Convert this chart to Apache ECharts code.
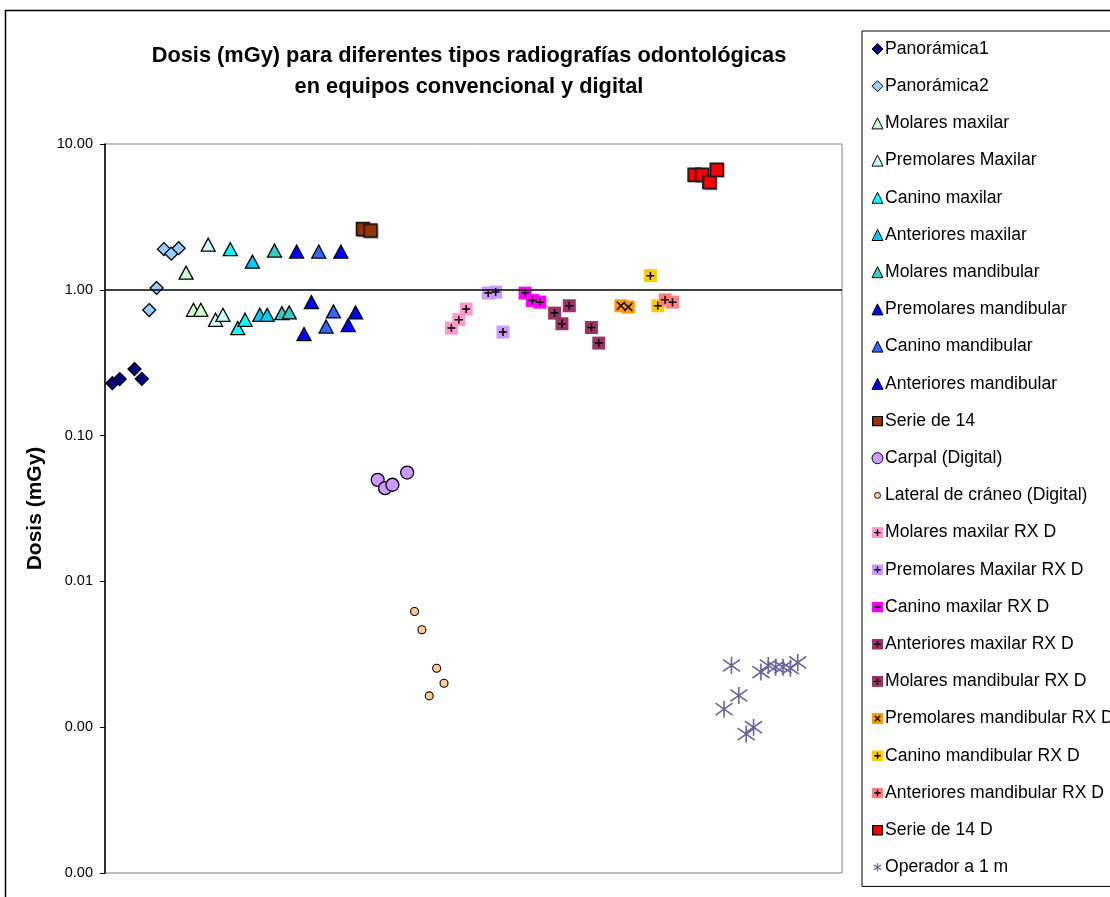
<!DOCTYPE html>
<html>
<head>
<meta charset="utf-8">
<script src="https://cdn.jsdelivr.net/npm/echarts@6/dist/echarts.min.js"></script>
<style>
  html, body { margin: 0; padding: 0; background: #fff; }
  #chart { width: 1110px; height: 897px; }
</style>
</head>
<body>
<div id="chart"></div>
<script>
// Dose values in mGy, one [sample index, dose] pair per measurement
const panoramica1 = [[1, 0.229], [2, 0.244], [4, 0.286], [5, 0.245]];
const panoramica2 = [[6, 0.726], [7, 1.03], [8, 1.90], [9, 1.77], [10, 1.93]];
const molaresMaxilar = [[11, 1.31], [12, 0.729], [13, 0.729]];
const premolaresMaxilar = [[14, 2.04], [15, 0.623], [16, 0.674]];
const caninoMaxilar = [[17, 1.90], [18, 0.546], [19, 0.623]];
const anterioresMaxilar = [[20, 1.56], [21, 0.674], [22, 0.674]];
const molaresMandibular = [[23, 1.86], [24, 0.692], [25, 0.699]];
const premolaresMandibular = [[26, 1.83], [27, 0.497], [28, 0.823]];
const caninoMandibular = [[29, 1.83], [30, 0.560], [31, 0.710]];
const anterioresMandibular = [[32, 1.83], [33, 0.573], [34, 0.699]];
const serie14 = [[35, 2.61], [36, 2.55]];
const carpal = [[37, 0.0497], [38, 0.0436], [39, 0.0460], [41, 0.0558]];
const lateralCraneo = [[42, 0.00622], [43, 0.00466], [44, 0.00164], [45, 0.00254], [46, 0.00200]];
const molaresMaxilarD = [[47, 0.546], [48, 0.623], [49, 0.738]];
const premolaresMaxilarD = [[52, 0.949], [53, 0.964], [54, 0.513]];
const caninoMaxilarD = [[57, 0.949], [58, 0.845], [59, 0.823]];
const anterioresMaxilarD = [[61, 0.692], [62, 0.585], [63, 0.777]];
const molaresMandibularD = [[66, 0.551], [67, 0.431]];
const premolaresMandibularD = [[70, 0.777], [71, 0.761]];
const caninoMandibularD = [[74, 1.25], [75, 0.777]];
const anterioresMandibularD = [[76, 0.854], [77, 0.823]];
const serie14D = [[80, 6.15], [81, 6.15], [82, 5.48], [83, 6.65]];
const operador = [[84, 0.00133], [85, 0.00265], [86, 0.00165], [87, 0.000897], [88, 0.00100],
                  [89, 0.00239], [90, 0.00265], [91, 0.00258], [92, 0.00258], [93, 0.00254], [94, 0.00278]];

// Axis range (log decades) and the level where the horizontal axis crosses
const yMin = 0.0001, yMax = 10, xMin = 0, xMax = 100, crossAt = 1;

const titleText = 'Dosis (mGy) para diferentes tipos radiografías odontológicas\nen equipos convencional y digital';
const yAxisTitle = 'Dosis (mGy)';

const FONT = "'Liberation Sans', Arial, sans-serif";
const STAR = 'path://M10 0L10 20M1 3L19 17M1 17L19 3';
const PLUS = 'path://M5 0L5 10M0 5L10 5';
const CROSS = 'path://M0 0L10 10M0 10L10 0';

// Series look: marker kind, colour and whether a plus / cross is drawn on the square
const seriesSpec = [
  { name: 'Panorámica1', data: panoramica1, kind: 'diamond', color: '#000080' },
  { name: 'Panorámica2', data: panoramica2, kind: 'diamond', color: '#99CCFF' },
  { name: 'Molares maxilar', data: molaresMaxilar, kind: 'triangle', color: '#CCFFCC' },
  { name: 'Premolares Maxilar', data: premolaresMaxilar, kind: 'triangle', color: '#CCFFFF' },
  { name: 'Canino maxilar', data: caninoMaxilar, kind: 'triangle', color: '#00FFFF' },
  { name: 'Anteriores maxilar', data: anterioresMaxilar, kind: 'triangle', color: '#00CCFF' },
  { name: 'Molares mandibular', data: molaresMandibular, kind: 'triangle', color: '#33CCCC' },
  { name: 'Premolares mandibular', data: premolaresMandibular, kind: 'triangle', color: '#0000FF' },
  { name: 'Canino mandibular', data: caninoMandibular, kind: 'triangle', color: '#3366FF' },
  { name: 'Anteriores mandibular', data: anterioresMandibular, kind: 'triangle', color: '#0000FF' },
  { name: 'Serie de 14', data: serie14, kind: 'square', color: '#993300' },
  { name: 'Carpal (Digital)', data: carpal, kind: 'circle', color: '#CC99FF' },
  { name: 'Lateral de cráneo (Digital)', data: lateralCraneo, kind: 'dot', color: '#FFCC99' },
  { name: 'Molares maxilar RX D', data: molaresMaxilarD, kind: 'marked', color: '#FF99CC', mark: 'plus' },
  { name: 'Premolares Maxilar RX D', data: premolaresMaxilarD, kind: 'marked', color: '#CC99FF', mark: 'plus' },
  { name: 'Canino maxilar RX D', data: caninoMaxilarD, kind: 'marked', color: '#FF00FF', mark: 'plus' },
  { name: 'Anteriores maxilar RX D', data: anterioresMaxilarD, kind: 'marked', color: '#993366', mark: 'plus' },
  { name: 'Molares mandibular RX D', data: molaresMandibularD, kind: 'marked', color: '#993366', mark: 'plus' },
  { name: 'Premolares mandibular RX D', data: premolaresMandibularD, kind: 'marked', color: '#FF9900', mark: 'cross' },
  { name: 'Canino mandibular RX D', data: caninoMandibularD, kind: 'marked', color: '#FFCC00', mark: 'plus' },
  { name: 'Anteriores mandibular RX D', data: anterioresMandibularD, kind: 'marked', color: '#FF8080', mark: 'plus' },
  { name: 'Serie de 14 D', data: serie14D, kind: 'square', color: '#FF0000' },
  { name: 'Operador a 1 m', data: operador, kind: 'star', color: '#666699' }
];

function svgIcon(body, w, h) {
  const svg = '<svg xmlns="http://www.w3.org/2000/svg" width="' + w + '" height="' + h +
    '" viewBox="0 0 ' + w + ' ' + h + '">' + body + '</svg>';
  return 'image://data:image/svg+xml;charset=utf-8,' + encodeURIComponent(svg);
}
function markedIcon(color, mark) {
  const m = mark === 'cross'
    ? '<path d="M3 3L9 9M3 9L9 3" stroke="#000" stroke-width="1.5"/>'
    : '<path d="M6 2.5V9.5M2.5 6H9.5" stroke="#000" stroke-width="1.5"/>';
  return svgIcon('<rect x="0" y="0" width="12" height="12" fill="' + color + '"/>' + m, 12, 12);
}

const series = [];
const legendData = [];

// Horizontal axis drawn at dose = 1 across the plot, beneath the markers
series.push({
  type: 'scatter', name: '__axis', data: [], z: 1, silent: true,
  markLine: {
    silent: true, symbol: 'none', animation: false,
    label: { show: false },
    lineStyle: { color: '#000', width: 1.5, type: 'solid' },
    emphasis: { disabled: true },
    data: [{ yAxis: crossAt }]
  }
});

seriesSpec.forEach(function (s) {
  const base = {
    type: 'scatter', name: s.name, data: s.data, z: 3,
    emphasis: { disabled: true }, silent: true
  };
  const legendItem = { name: s.name };
  if (s.kind === 'diamond') {
    Object.assign(base, { symbol: 'diamond', symbolSize: 13,
      itemStyle: { color: s.color, borderColor: '#000', borderWidth: 1.3, opacity: 1 } });
  } else if (s.kind === 'triangle') {
    Object.assign(base, { symbol: 'triangle', symbolSize: [14, 13],
      itemStyle: { color: s.color, borderColor: '#000', borderWidth: 1.3, opacity: 1 } });
  } else if (s.kind === 'square') {
    Object.assign(base, { symbol: 'rect', symbolSize: 13,
      itemStyle: { color: s.color, borderColor: '#1a1a1a', borderWidth: 1.5, opacity: 1,
        shadowColor: 'rgba(0,0,0,0.35)', shadowOffsetX: 1, shadowOffsetY: 1, shadowBlur: 1 } });
    legendItem.icon = svgIcon('<rect x="0.75" y="0.75" width="10.5" height="10.5" fill="' + s.color +
      '" stroke="#000" stroke-width="1.5"/>', 12, 12);
  } else if (s.kind === 'circle') {
    Object.assign(base, { symbol: 'circle', symbolSize: 13,
      itemStyle: { color: s.color, borderColor: '#000', borderWidth: 1.3, opacity: 1 } });
  } else if (s.kind === 'dot') {
    Object.assign(base, { symbol: 'circle', symbolSize: 8,
      itemStyle: { color: s.color, borderColor: '#000', borderWidth: 1.1, opacity: 1 } });
    legendItem.icon = svgIcon('<circle cx="6" cy="6" r="3.3" fill="' + s.color +
      '" stroke="#000" stroke-width="1"/>', 12, 12);
  } else if (s.kind === 'marked') {
    Object.assign(base, { symbol: 'rect', symbolSize: 13,
      itemStyle: { color: s.color, opacity: 1 } });
    legendItem.icon = markedIcon(s.color, s.mark);
  } else if (s.kind === 'star') {
    Object.assign(base, { symbol: STAR, symbolSize: 17,
      itemStyle: { color: 'rgba(0,0,0,0)', borderColor: s.color, borderWidth: 1.6, opacity: 1 } });
    legendItem.icon = svgIcon('<path d="M6 1.5V10.5M2 3.5L10 8.5M2 8.5L10 3.5" stroke="' + s.color +
      '" stroke-width="1.3" fill="none"/>', 12, 12);
  }
  series.push(base);
  legendData.push(legendItem);
  if (s.kind === 'marked') {
    // black plus / cross printed on each square
    series.push({
      type: 'scatter', name: s.name + ' mark', data: s.data, z: 4, silent: true,
      emphasis: { disabled: true },
      symbol: s.mark === 'cross' ? CROSS : PLUS, symbolSize: 8,
      itemStyle: { color: 'rgba(0,0,0,0)', borderColor: '#000', borderWidth: 1.5, opacity: 1 }
    });
  }
});

const option = {
  animation: false,
  backgroundColor: '#fff',
  title: {
    text: titleText,
    left: 469, top: 40, textAlign: 'center', padding: 0,
    textStyle: { fontFamily: FONT, fontSize: 21.8, fontWeight: 'bold', color: '#000', lineHeight: 31 }
  },
  legend: {
    orient: 'vertical',
    left: 862, top: 31,
    padding: [9, 10, 10, 9.5],
    itemWidth: 11, itemHeight: 11, itemGap: 19.2,
    borderColor: '#000', borderWidth: 1, backgroundColor: '#fff',
    selectedMode: false,
    textStyle: { fontFamily: FONT, fontSize: 17.6, lineHeight: 17, color: '#000', padding: [0, 0, 0, -3] },
    itemStyle: { borderWidth: 1 },
    data: legendData
  },
  grid: {
    left: 105, top: 144, width: 737, height: 729,
    show: true, borderColor: '#808080', borderWidth: 1, backgroundColor: '#fff'
  },
  xAxis: {
    type: 'value', min: xMin, max: xMax, show: false
  },
  yAxis: {
    type: 'log', logBase: 10, min: yMin, max: yMax,
    name: yAxisTitle, nameLocation: 'middle', nameGap: 59,
    nameTextStyle: { fontFamily: FONT, fontSize: 21, fontWeight: 'bold', color: '#000' },
    axisLine: { show: true, lineStyle: { color: '#000', width: 1.5 } },
    axisTick: { show: true, inside: false, length: 5, lineStyle: { color: '#000', width: 1 } },
    minorTick: { show: false },
    splitLine: { show: false },
    axisLabel: {
      margin: 12, fontFamily: FONT, fontSize: 14.5, color: '#000',
      formatter: function (v) { return Number(v).toFixed(2); }
    }
  },
  graphic: [{
    type: 'rect', silent: true, z: 100,
    shape: { x: 5.5, y: 10.5, width: 1300, height: 1000 },
    style: { fill: 'none', stroke: '#000', lineWidth: 1.5 }
  }],
  series: series
};

const chart = echarts.init(document.getElementById('chart'), null, { renderer: 'canvas' });
chart.setOption(option);
</script>
</body>
</html>
